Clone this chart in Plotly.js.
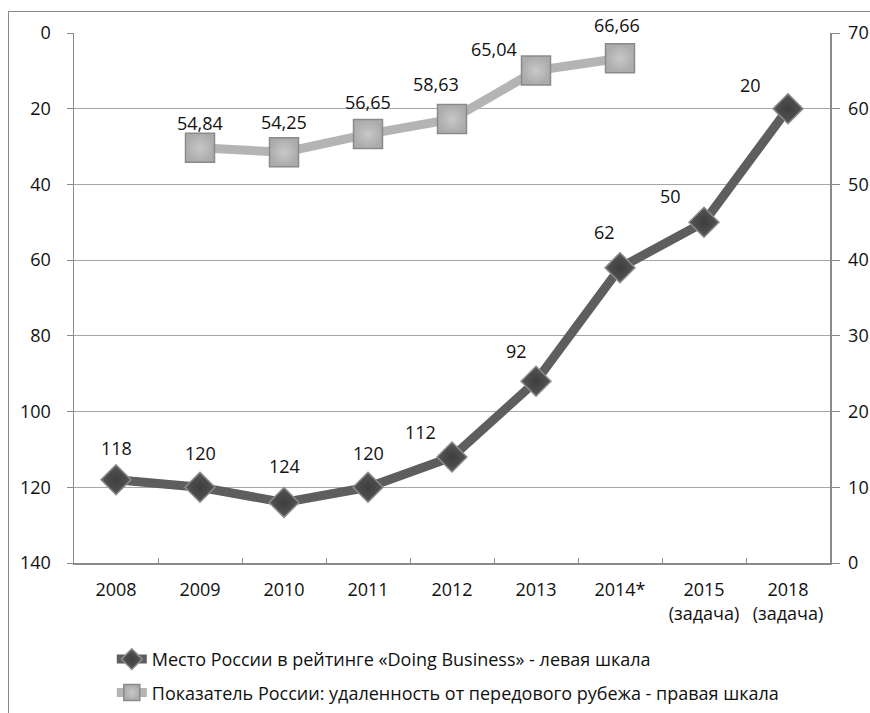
<!DOCTYPE html>
<html>
<head>
<meta charset="utf-8">
<script src="https://cdn.plot.ly/plotly-3.0.1.min.js"></script>
<style>
html,body{margin:0;padding:0;background:#fff;overflow:hidden;}
#wrap{position:relative;width:870px;height:713px;}
#frame{position:absolute;left:8px;top:11px;width:900px;height:760px;border-left:1.5px solid #8a8a8a;border-top:1.5px solid #8a8a8a;}
#chart{position:absolute;left:0;top:0;width:870px;height:713px;}
</style>
</head>
<body>
<div id="wrap"><div id="frame"></div><div id="chart"></div></div>
<script>
// ---- data ----
var categories = ['2008','2009','2010','2011','2012','2013','2014*','2015<br>(задача)','2018<br>(задача)'];
var rankValues = [118, 120, 124, 120, 112, 92, 62, 50, 20];
var dtfCategories = ['2009','2010','2011','2012','2013','2014*'];
var dtfValues = [54.84, 54.25, 56.65, 58.63, 65.04, 66.66];
var rankName = 'Место России в рейтинге «Doing Business» - левая шкала';
var dtfName = 'Показатель России: удаленность от передового рубежа - правая шкала';
var leftTicks = [0, 20, 40, 60, 80, 100, 120, 140];
var rightTicks = [0, 10, 20, 30, 40, 50, 60, 70];

// ---- label offsets (style) ----
var rankDx = [0, 0, 0, 0, -32, -20, -16, -34, -38];
var rankDy = [32, 34, 36, 34, 25, 30, 36, 26, 24];
var dtfDx = [0, 0, 0, -16, -42, -3];
var dtfDy = [25, 30, 32, 35, 22, 33];

var FONT = 'Open Sans, Noto Sans, sans-serif';
var FS = 18;
var fmt = function(v){ return String(v).replace('.', ','); };

var rankTrace = {
  x: categories, y: rankValues, yaxis: 'y', type: 'scatter', mode: 'lines+markers',
  name: rankName, legendgroup: 'a',
  line: {color: '#5e5e5e', width: 9},
  marker: {symbol: 'diamond', size: 23, color: '#555555',
           line: {color: '#8c8c8c', width: 1.5},
           gradient: {type: 'radial', color: '#3e3e3e'}}
};
var dtfTrace = {
  x: dtfCategories, y: dtfValues, yaxis: 'y2', type: 'scatter', mode: 'lines+markers',
  name: dtfName, legendgroup: 'b',
  line: {color: '#b4b4b4', width: 9},
  marker: {symbol: 'square', size: 29, color: '#ababab',
           line: {color: '#8a8a8a', width: 1.5},
           gradient: {type: 'radial', color: '#c8c8c8'}}
};

var annotations = [];
rankValues.forEach(function(v, i){
  annotations.push({x: i, y: v, xref: 'x', yref: 'y', text: fmt(v),
    showarrow: false, xshift: rankDx[i], yshift: rankDy[i],
    font: {family: FONT, size: FS, color: '#111'}});
});
dtfValues.forEach(function(v, i){
  annotations.push({x: categories.indexOf(dtfCategories[i]), y: v, xref: 'x', yref: 'y2', text: fmt(v),
    showarrow: false, xshift: dtfDx[i], yshift: dtfDy[i],
    font: {family: FONT, size: FS, color: '#111'}});
});

var layout = {
  width: 870, height: 713,
  margin: {l: 74, r: 40, t: 33, b: 150, autoexpand: false},
  paper_bgcolor: 'rgba(0,0,0,0)', plot_bgcolor: 'rgba(0,0,0,0)',
  font: {family: FONT, size: FS, color: '#111'},
  showlegend: true,
  legend: {x: 0.05, xanchor: 'left', y: -0.147, yanchor: 'top', orientation: 'v',
           tracegroupgap: 7, font: {family: FONT, size: FS, color: '#111'},
           bgcolor: 'rgba(0,0,0,0)'},
  xaxis: {type: 'category', categoryorder: 'array', categoryarray: categories,
          range: [-0.5, categories.length - 0.5], automargin: false,
          showline: true, linecolor: '#8a8a8a', linewidth: 1.5,
          ticks: 'inside', tickson: 'boundaries', ticklen: 5, tickcolor: '#8a8a8a',
          showgrid: false, zeroline: false, ticklabelstandoff: 10,
          tickfont: {family: FONT, size: FS, color: '#111'}},
  yaxis: {range: [140, 0], tickvals: leftTicks, ticktext: leftTicks.map(String),
          automargin: false,
          showline: true, linecolor: '#8a8a8a', linewidth: 1.5,
          ticks: 'outside', ticklen: 6, tickcolor: '#8a8a8a',
          showgrid: true, gridcolor: '#a6a6a6', gridwidth: 1, zeroline: false,
          ticklabelstandoff: 12,
          tickfont: {family: FONT, size: FS, color: '#111'}},
  yaxis2: {overlaying: 'y', side: 'right', range: [0, 70], tickvals: rightTicks,
           ticktext: rightTicks.map(String), automargin: false,
           showline: true, linecolor: '#8a8a8a', linewidth: 1.5,
           ticks: 'outside', ticklen: 8, tickcolor: '#8a8a8a',
           showgrid: false, zeroline: false, ticklabelstandoff: 5,
           tickfont: {family: FONT, size: FS, color: '#111'}},
  annotations: annotations
};

Plotly.newPlot('chart', [rankTrace, dtfTrace], layout, {displayModeBar: false, staticPlot: true});
</script>
</body>
</html>
